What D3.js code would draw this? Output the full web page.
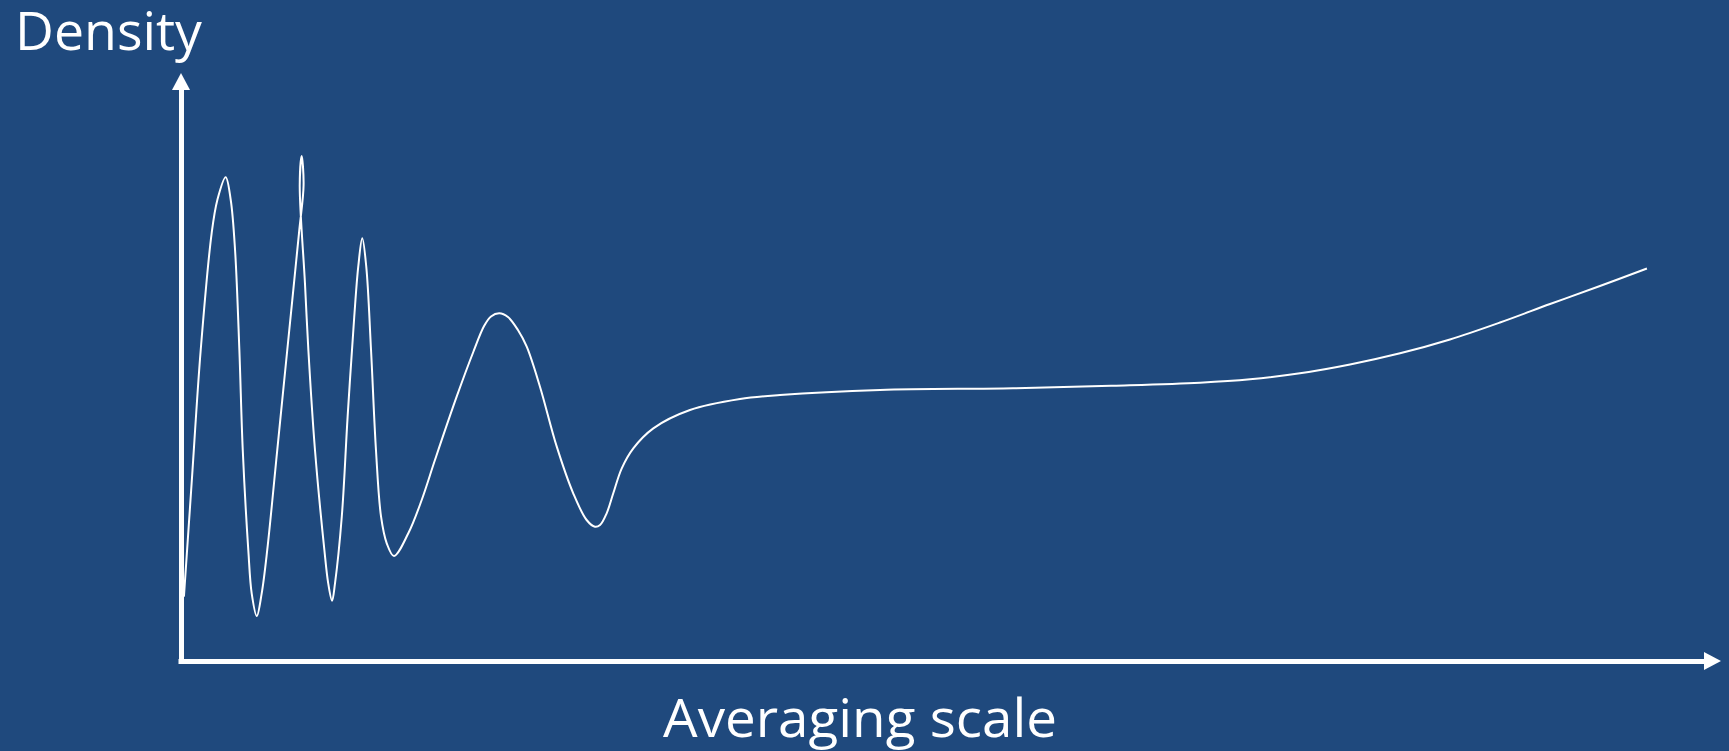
<!DOCTYPE html>
<html>
<head>
<meta charset="utf-8">
<script src="https://cdn.jsdelivr.net/npm/d3@7"></script>
<style>
  html, body { margin: 0; padding: 0; background: #1F497D; overflow: hidden; }
  svg { display: block; }
</style>
</head>
<body>
<svg id="chart" width="1729" height="751"></svg>
<script>
// Axis labels
const xLabel = "Averaging scale";
const yLabel = "Density";

// Curve (parametric points in data units; x = averaging scale, y = density)
const scaleValues = [0.19, 0.69, 1.28, 1.99, 2.36, 2.90, 3.23, 3.51, 3.79, 4.01, 4.37, 4.59, 4.92, 5.24, 5.60,
  6.25, 6.90, 7.66, 7.96, 7.84, 7.71, 8.05, 8.27, 8.70, 9.31, 9.56, 9.81, 10.00, 10.44, 10.82, 11.25, 11.51,
  11.77, 12.03, 12.34, 12.66, 12.99, 13.36, 13.83, 14.76, 15.63, 16.49, 17.90, 18.98, 19.68, 20.13, 20.67,
  21.23, 21.88, 22.45, 23.31, 24.40, 25.47, 26.34, 26.88, 27.21, 27.64, 28.07, 28.62, 29.37, 30.67, 33.05,
  36.30, 38.90, 45.39, 54.03, 60.52, 66.17, 69.42, 72.66, 75.91, 79.16, 82.40, 85.65, 88.90, 92.14, 95.19];
const densityValues = [10.94, 30.22, 52.89, 72.74, 78.40, 82.26, 78.40, 69.90, 52.89, 35.88, 18.88, 11.51, 7.65, 11.51, 18.88,
  35.88, 52.89, 72.74, 80.95, 85.88, 80.95, 64.23, 52.89, 35.88, 18.88, 13.21, 10.26, 13.21, 24.54, 41.55, 58.55, 67.06,
  71.89, 67.06, 52.89, 35.88, 24.54, 20.02, 17.86, 21.72, 27.38, 34.18, 44.95, 52.55, 56.97, 58.59, 59.13,
  58.50, 56.29, 53.45, 46.65, 36.45, 28.52, 23.98, 22.84, 23.13, 25.12, 28.52, 32.77, 36.17, 39.57, 42.69,
  44.56, 45.24, 46.09, 46.38, 46.82, 47.33, 47.91, 48.93, 50.43, 52.33, 54.68, 57.57, 60.71, 63.78, 66.75];

const W = 1729, H = 751;
const svg = d3.select("#chart");
svg.append("rect").attr("width", W).attr("height", H).attr("fill", "#1F497D");

const x = d3.scaleLinear().domain([0, 100]).range([181, 1721]);
const y = d3.scaleLinear().domain([0, 100]).range([661, 73]);

const axisColor = "#FFFFFF";
const arrowLen = 17, arrowHalf = 9;

// X axis (no ticks), line ends at arrow base
const xAxisG = svg.append("g").attr("transform", `translate(0,${y(0)})`)
  .call(d3.axisBottom(d3.scaleLinear().domain([0, 1]).range([x(0) - 3, x(100) - arrowLen + 1])).tickValues([]).tickSizeOuter(0));
xAxisG.select(".domain").attr("stroke", axisColor).attr("stroke-width", 5);

// Y axis (no ticks)
const yAxisG = svg.append("g").attr("transform", `translate(${x(0)},0)`)
  .call(d3.axisLeft(d3.scaleLinear().domain([0, 1]).range([y(0) + 2.5, y(100) + arrowLen - 1])).tickValues([]).tickSizeOuter(0));
yAxisG.select(".domain").attr("stroke", axisColor).attr("stroke-width", 5);

// Arrowheads
svg.append("polygon")
  .attr("points", [[x(100), y(0)], [x(100) - arrowLen, y(0) - arrowHalf], [x(100) - arrowLen, y(0) + arrowHalf]].map(p => p.join(",")).join(" "))
  .attr("fill", axisColor);
svg.append("polygon")
  .attr("points", [[x(0), y(100)], [x(0) - arrowHalf, y(100) + arrowLen], [x(0) + arrowHalf, y(100) + arrowLen]].map(p => p.join(",")).join(" "))
  .attr("fill", axisColor);

// Curve
const pts = scaleValues.map((v, i) => [v, densityValues[i]]);
const line = d3.line().x(d => x(d[0])).y(d => y(d[1])).curve(d3.curveCatmullRom.alpha(0.5));
svg.append("path").datum(pts).attr("d", line)
  .attr("fill", "none").attr("stroke", "#FFFFFF").attr("stroke-width", 2);

// Labels
const font = "'Open Sans', 'Noto Sans', sans-serif";
svg.append("text").attr("x", 15).attr("y", 50)
  .attr("font-family", font).attr("font-size", 53).attr("fill", "#FFFFFF")
  .attr("textLength", 187).attr("lengthAdjust", "spacingAndGlyphs")
  .text(yLabel);
svg.append("text").attr("x", 860).attr("y", 737).attr("text-anchor", "middle")
  .attr("font-family", font).attr("font-size", 53).attr("fill", "#FFFFFF")
  .attr("textLength", 394).attr("lengthAdjust", "spacingAndGlyphs")
  .text(xLabel);
</script>
</body>
</html>
